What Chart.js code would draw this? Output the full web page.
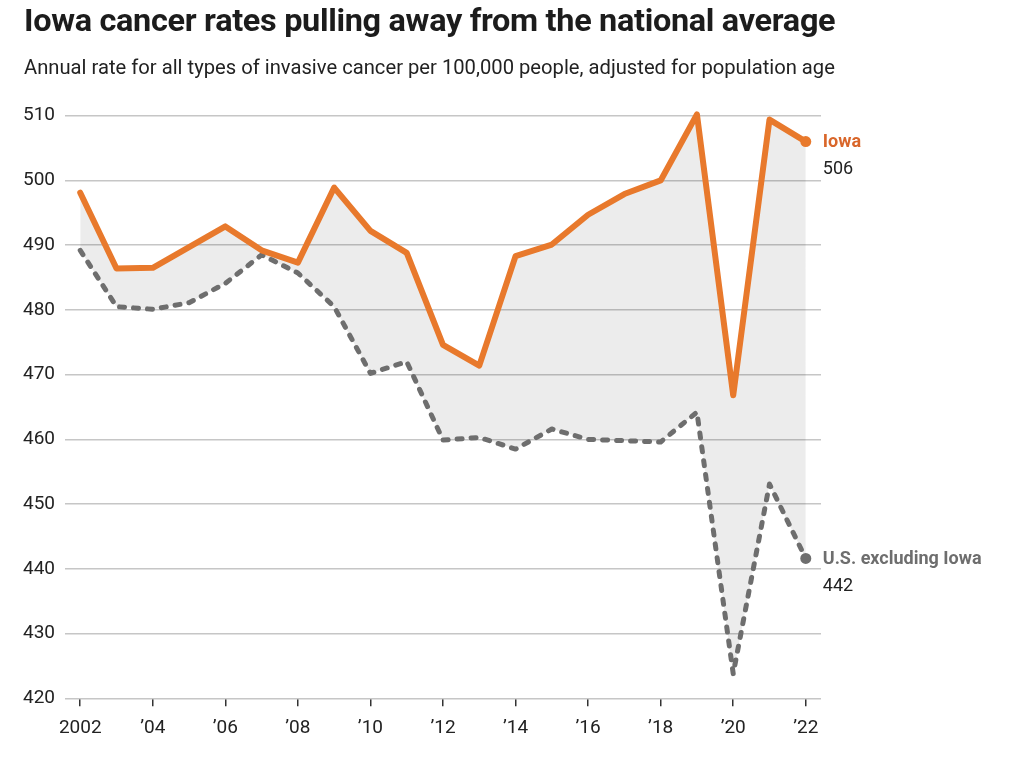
<!DOCTYPE html>
<html>
<head>
<meta charset="utf-8">
<script src="https://cdn.jsdelivr.net/npm/chart.js@4.4.1/dist/chart.umd.min.js"></script>
<style>
  html, body { margin: 0; padding: 0; background: #fff; }
  #wrap { position: relative; width: 1024px; height: 760px; overflow: hidden; }
  #chart { position: absolute; left: 0; top: 0; }
  .ttl { position: absolute; left: 24px; white-space: nowrap; transform-origin: 0 0; color: #1c1c1c; }
  #title { top: 2px; font: 700 31px Roboto, sans-serif; letter-spacing: -0.3px; }
  #subtitle { top: 55px; font: 400 20px Roboto, sans-serif; color: #222; }
</style>
</head>
<body>
<div id="wrap">
  <canvas id="chart" width="1024" height="760"></canvas>
  <div class="ttl" id="title">Iowa cancer rates pulling away from the national average</div>
  <div class="ttl" id="subtitle">Annual rate for all types of invasive cancer per 100,000 people, adjusted for population age</div>
</div>
<script>
// values
var years = [2002, 2003, 2004, 2005, 2006, 2007, 2008, 2009, 2010, 2011, 2012,
             2013, 2014, 2015, 2016, 2017, 2018, 2019, 2020, 2021, 2022];
var iowaRates = [498.1, 486.4, 486.5, 489.7, 492.9, 489.2, 487.3, 498.9, 492.2, 488.8, 474.6,
                 471.4, 488.3, 490.1, 494.7, 497.9, 500.0, 510.2, 466.8, 509.4, 506];
var usRates = [489.2, 480.5, 480.1, 481.1, 484.1, 488.5, 485.7, 480.5, 470.2, 472.0, 459.9,
               460.3, 458.5, 461.6, 460.0, 459.8, 459.6, 464.2, 423.8, 453.1, 441.6];
var xTickYears = [2002, 2004, 2006, 2008, 2010, 2012, 2014, 2016, 2018, 2020, 2022];
var seriesNames = ['Iowa', 'U.S. excluding Iowa'];
var endValues = ['506', '442'];

// squeeze the headings to the width of the original
function fit(id, w) {
  var el = document.getElementById(id);
  el.style.transform = 'scaleX(' + (w / el.scrollWidth) + ')';
}
fit('title', 811);
fit('subtitle', 811);

function pts(vals) {
  return years.map(function (y, i) { return {x: y, y: vals[i]}; });
}
function lastOnly(r) {
  return function (ctx) { return ctx.dataIndex === years.length - 1 ? r : 0; };
}

var ORANGE = '#e8792c';
var GREY = '#6e6e6e';

var endLabels = {
  id: 'endLabels',
  afterDatasetsDraw: function (chart) {
    var c = chart.ctx;
    var colors = ['#d9662a', GREY];
    chart.data.datasets.forEach(function (ds, i) {
      var meta = chart.getDatasetMeta(i);
      var p = meta.data[meta.data.length - 1];
      c.save();
      c.textAlign = 'left';
      c.textBaseline = 'middle';
      c.font = '700 18px Roboto, sans-serif';
      c.fillStyle = colors[i];
      c.fillText(seriesNames[i], p.x + 17, p.y + 1);
      c.font = '400 18px Roboto, sans-serif';
      c.fillStyle = '#222';
      c.fillText(endValues[i], p.x + 17, p.y + 28);
      c.restore();
    });
  }
};

new Chart(document.getElementById('chart'), {
  type: 'line',
  data: {
    datasets: [
      {
        label: seriesNames[0],
        data: pts(iowaRates),
        borderColor: ORANGE,
        backgroundColor: 'rgba(0,0,0,0.075)',
        borderWidth: 6,
        borderJoinStyle: 'round',
        borderCapStyle: 'round',
        pointRadius: lastOnly(5.5),
        pointBackgroundColor: ORANGE,
        pointBorderWidth: 0,
        fill: '+1',
        tension: 0,
        clip: false
      },
      {
        label: seriesNames[1],
        data: pts(usRates),
        borderColor: GREY,
        borderWidth: 5,
        borderDash: [5, 9],
        borderCapStyle: 'round',
        borderJoinStyle: 'round',
        pointRadius: lastOnly(5.5),
        pointBackgroundColor: GREY,
        pointBorderWidth: 0,
        fill: false,
        tension: 0,
        clip: false
      }
    ]
  },
  options: {
    responsive: false,
    animation: false,
    events: [],
    layout: { padding: { top: 115.7, right: 203, bottom: 0, left: 0 } },
    plugins: {
      legend: { display: false },
      tooltip: { enabled: false },
      filler: { drawTime: 'beforeDatasetsDraw' }
    },
    scales: {
      x: {
        type: 'linear',
        min: 2001.58,
        max: 2022.42,
        afterBuildTicks: function (scale) {
          scale.ticks = xTickYears.map(function (v) { return {value: v}; });
        },
        afterFit: function (scale) { scale.height = 61.7; },
        border: { display: false },
        grid: { drawOnChartArea: false, drawTicks: true, tickLength: 8, color: '#333', lineWidth: 1.5 },
        ticks: {
          autoSkip: false,
          maxRotation: 0,
          padding: 11,
          color: '#222',
          font: { family: 'Roboto', size: 19 },
          callback: function (v) { return v === 2002 ? '2002' : '\u2019' + String(v).slice(2); }
        }
      },
      y: {
        min: 420,
        max: 510,
        afterFit: function (scale) { scale.width = 65; },
        border: { display: false },
        grid: { color: '#c6c6c6', lineWidth: 1.5, drawTicks: false },
        ticks: {
          stepSize: 10,
          padding: 10,
          color: '#222',
          font: { family: 'Roboto', size: 19 }
        }
      }
    }
  },
  plugins: [endLabels]
});
</script>
</body>
</html>
